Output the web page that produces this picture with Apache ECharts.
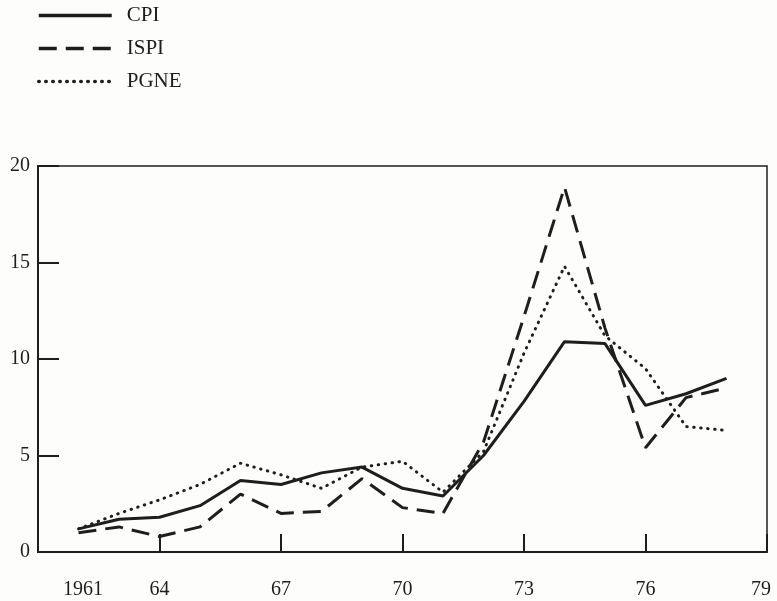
<!DOCTYPE html>
<html>
<head>
<meta charset="utf-8">
<script src="https://cdn.jsdelivr.net/npm/echarts@6/dist/echarts.min.js"></script>
<style>
html,body{margin:0;padding:0;background:#fdfdfb;}
#c{width:777px;height:601px;}
</style>
</head>
<body>
<div id="c"></div>
<script>
var years = [1962,1963,1964,1965,1966,1967,1968,1969,1970,1971,1972,1973,1974,1975,1976,1977,1978];
var cpi  = [1.2,1.7,1.8,2.4,3.7,3.5,4.1,4.4,3.3,2.9,5.0,7.8,10.9,10.8,7.6,8.2,9.0];
var ispi = [1.0,1.3,0.8,1.3,3.0,2.0,2.1,3.8,2.3,2.0,5.7,12.2,18.9,11.6,5.4,8.0,8.5];
var pgne = [1.2,2.0,2.7,3.5,4.6,4.0,3.3,4.4,4.7,3.1,5.2,10.3,14.8,11.2,9.5,6.5,6.3];
var seriesNames = ['CPI','ISPI','PGNE'];
var yTicks = [0,5,10,15,20];
var xTicks = [1961,64,67,70,73,76,79];

function pairs(v){ return years.map(function(y,i){ return [y, v[i]]; }); }

var ink = '#1e1e1e';
var font = '"Liberation Serif", "DejaVu Serif", serif';

var chart = echarts.init(document.getElementById('c'), null, {renderer:'canvas'});
chart.setOption({
  backgroundColor: '#fdfdfb',
  animation: false,
  textStyle: {fontFamily: font, color: ink},
  legend: {
    orient: 'vertical',
    left: 37,
    top: 5,
    padding: 0,
    itemWidth: 73,
    itemHeight: 20,
    itemGap: 12,
    itemStyle: {opacity: 0},
    lineStyle: {width: 3.5},
    textStyle: {fontFamily: font, fontSize: 21, color: ink, padding: [0,0,0,10]},
    data: seriesNames
  },
  grid: {
    left: 38, right: 10, top: 166, bottom: 49,
    show: true, borderColor: ink, borderWidth: 1.5, backgroundColor: 'transparent'
  },
  xAxis: {
    type: 'value',
    min: 1961, max: 1979, interval: 3,
    axisLine: {show: true, onZero: false, lineStyle: {color: ink, width: 2}},
    axisTick: {show: true, inside: true, length: 18, lineStyle: {color: ink, width: 2}},
    splitLine: {show: false},
    axisLabel: {
      margin: 28,
      fontFamily: font, fontSize: 20, color: ink,
      formatter: function(v){
        var idx = Math.round((v - 1961) / 3);
        var t = xTicks[idx];
        if (idx === 0) return '{first|' + t + '}';
        if (idx === xTicks.length - 1) return '{last|' + t + '}';
        return String(t);
      },
      rich: {
        first: {fontFamily: font, fontSize: 20, color: ink, padding: [0,0,0,90]},
        last: {fontFamily: font, fontSize: 20, color: ink, padding: [0,12,0,0]}
      }
    }
  },
  yAxis: {
    type: 'value',
    min: 0, max: 20, interval: 5,
    axisLine: {show: true, lineStyle: {color: ink, width: 2}},
    axisTick: {show: true, inside: true, length: 21, lineStyle: {color: ink, width: 2}},
    splitLine: {show: false},
    axisLabel: {
      margin: 8, fontFamily: font, fontSize: 20, color: ink,
      formatter: function(v){ return String(yTicks[Math.round(v/5)]); }
    }
  },
  series: [
    {name: 'CPI', type: 'line', data: pairs(cpi), symbol: 'none',
     lineStyle: {color: ink, width: 3, type: 'solid'}, itemStyle: {color: ink}},
    {name: 'ISPI', type: 'line', data: pairs(ispi), symbol: 'none',
     lineStyle: {color: ink, width: 3, type: [18, 9]}, itemStyle: {color: ink}},
    {name: 'PGNE', type: 'line', data: pairs(pgne), symbol: 'none',
     lineStyle: {color: ink, width: 3, type: [0.5, 6.5], cap: 'round'}, itemStyle: {color: ink}}
  ]
});
</script>
</body>
</html>
